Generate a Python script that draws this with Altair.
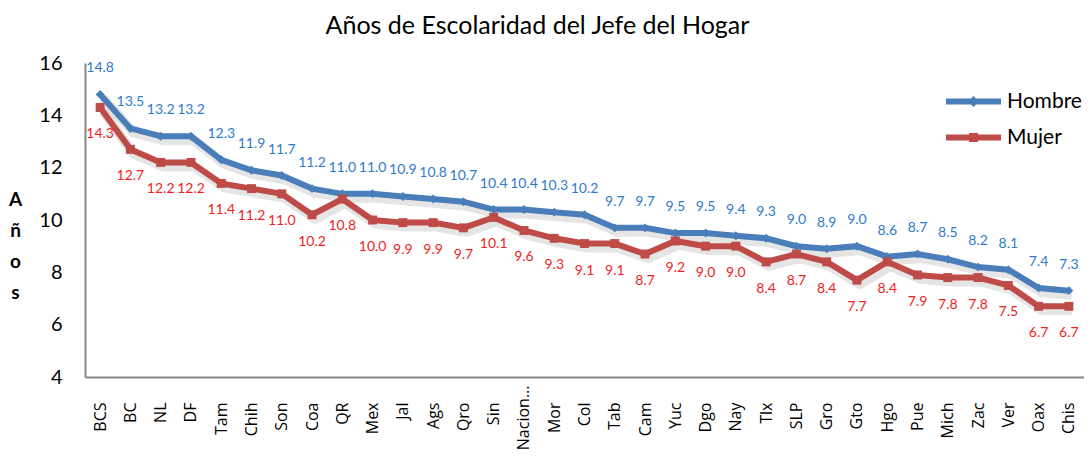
import altair as alt
import pandas as pd

estados = ["BCS", "BC", "NL", "DF", "Tam", "Chih", "Son", "Coa", "QR", "Mex", "Jal",
           "Ags", "Qro", "Sin", "Nacional", "Mor", "Col", "Tab", "Cam", "Yuc", "Dgo",
           "Nay", "Tlx", "SLP", "Gro", "Gto", "Hgo", "Pue", "Mich", "Zac", "Ver", "Oax", "Chis"]
hombre = [14.8, 13.5, 13.2, 13.2, 12.3, 11.9, 11.7, 11.2, 11.0, 11.0, 10.9,
          10.8, 10.7, 10.4, 10.4, 10.3, 10.2, 9.7, 9.7, 9.5, 9.5,
          9.4, 9.3, 9.0, 8.9, 9.0, 8.6, 8.7, 8.5, 8.2, 8.1, 7.4, 7.3]
mujer = [14.3, 12.7, 12.2, 12.2, 11.4, 11.2, 11.0, 10.2, 10.8, 10.0, 9.9,
         9.9, 9.7, 10.1, 9.6, 9.3, 9.1, 9.1, 8.7, 9.2, 9.0,
         9.0, 8.4, 8.7, 8.4, 7.7, 8.4, 7.9, 7.8, 7.8, 7.5, 6.7, 6.7]
series = ["Hombre", "Mujer"]
colores_linea = ["#4A7EBB", "#BE4B48"]
colores_texto = ["#2E7BCB", "#F01E1E"]
formas = ["diamond", "square"]
# legend glyphs: a line segment with the series marker on it (unit-square paths)
formas_leyenda = [
    "M-5.5,-0.6H5.5V0.6H-5.5Z M0,-1.1L1.1,0L0,1.1L-1.1,0Z",
    "M-5.5,-0.6H5.5V0.6H-5.5Z M-0.9,-0.9H0.9V0.9H-0.9Z",
]
y_ticks = [4, 6, 8, 10, 12, 14, 16]

rows = []
for e, h, m in zip(estados, hombre, mujer):
    rows.append({"Estado": e, "Sexo": "Hombre", "Valor": h})
    rows.append({"Estado": e, "Sexo": "Mujer", "Valor": m})
df = pd.DataFrame(rows)

FONT = "Lato"

x = alt.X(
    "Estado:N", sort=estados,
    scale=alt.Scale(type="point", padding=0.5),
    axis=alt.Axis(
        title=None, labelAngle=-90, labelAlign="right", labelBaseline="middle",
        labelFont="Open Sans", labelFontSize=16, labelColor="black",
        labelPadding={"condition": {"test": "datum.value == 'Nacional'", "value": 8},
                      "value": 25},
        ticks=False, domainColor="#868686", domainWidth=2,
        labelExpr="datum.value == 'Nacional' ? 'Nacion...' : datum.value",
    ),
)
y = alt.Y(
    "Valor:Q",
    scale=alt.Scale(domain=[4, 16], nice=False, zero=False),
    axis=alt.Axis(
        values=y_ticks, grid=False, ticks=False, tickSize=0, labelPadding=23,
        labelFont=FONT, labelFontSize=20, labelColor="black",
        domainColor="#868686", domainWidth=2,
        title=["A", "ñ", "o", "s"], titleAngle=0, titleAlign="center",
        titleBaseline="alphabetic", titleX=-70, titleY=142, titleLineHeight=31,
        titleFont=FONT, titleFontSize=19, titleFontWeight="bold", titleColor="black",
    ),
)

base = alt.Chart(df)

sombra = base.mark_line(color="#8a8a8a", opacity=0.22, strokeWidth=10,
                        xOffset=3, yOffset=4).encode(x=x, y=y, detail="Sexo:N")

lineas = base.mark_line(strokeWidth=6).encode(
    x=x, y=y,
    color=alt.Color("Sexo:N", scale=alt.Scale(domain=series, range=colores_linea), legend=None),
)

puntos = base.transform_calculate(Serie="datum.Sexo").mark_point(
    filled=True, opacity=1, size=80
).encode(
    x=x, y=y,
    fill=alt.Fill("Serie:N", scale=alt.Scale(domain=series, range=colores_linea), legend=None),
    shape=alt.Shape("Serie:N", scale=alt.Scale(domain=series, range=formas), legend=None),
)

leg = alt.Legend(title=None, orient="none", legendX=878, legendY=28,
                 symbolSize=100, symbolStrokeWidth=0, symbolOpacity=1,
                 labelFont=FONT, labelFontSize=21, labelColor="black",
                 labelOffset=23, rowPadding=14)
leyenda = base.transform_calculate(Leyenda="datum.Sexo").mark_point(
    filled=True, opacity=0, size=100
).encode(
    x=x, y=y,
    fill=alt.Fill("Leyenda:N", scale=alt.Scale(domain=series, range=colores_linea), legend=leg),
    shape=alt.Shape("Leyenda:N", scale=alt.Scale(domain=series, range=formas_leyenda), legend=leg),
)

txt_h = base.transform_filter("datum.Sexo == 'Hombre'").mark_text(
    dy=-26, font=FONT, fontSize=14, color=colores_texto[0]
).encode(x=x, y=y, text=alt.Text("Valor:Q", format=".1f"))

txt_m = base.transform_filter("datum.Sexo == 'Mujer'").mark_text(
    dy=27, font=FONT, fontSize=14, color=colores_texto[1]
).encode(x=x, y=y, text=alt.Text("Valor:Q", format=".1f"))

chart = alt.layer(sombra, lineas, puntos, leyenda, txt_h, txt_m).properties(
    width=999, height=314,
    autosize="none",
    padding={"left": 77, "top": 55, "right": 0, "bottom": 83},
    title=alt.Title("Años de Escolaridad del Jefe del Hogar", font=FONT, fontSize=25,
                    fontWeight="normal", color="black", anchor="middle", dx=-47,
                    dy=26, offset=20, baseline="alphabetic"),
).resolve_scale(fill="independent", shape="independent").configure_view(stroke=None)

chart.save("out.html", embed_options={"renderer": "svg", "actions": False})
